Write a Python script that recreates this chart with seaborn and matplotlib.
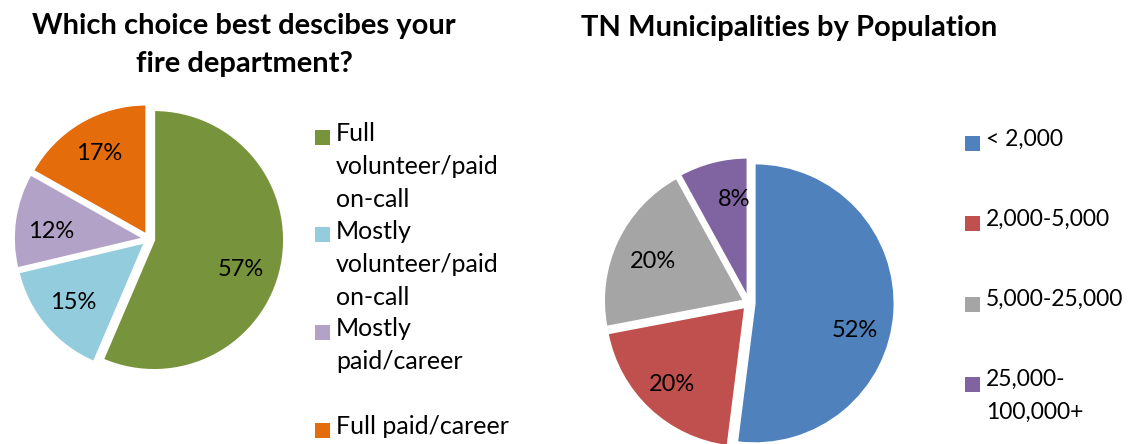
import matplotlib
matplotlib.use("Agg")
import matplotlib.pyplot as plt
import matplotlib.patches as patches
import seaborn as sns

# left chart data
dept_labels = ["Full\nvolunteer/paid\non-call", "Mostly\nvolunteer/paid\non-call",
               "Mostly\npaid/career", "Full paid/career"]
dept_share = [57, 15, 12, 17]
dept_colors = ["#77933C", "#93CDDD", "#B3A2C7", "#E46C0A"]

# right chart data
pop_labels = ["< 2,000", "2,000-5,000", "5,000-25,000", "25,000-\n100,000+"]
pop_share = [52, 20, 20, 8]
pop_colors = ["#4F81BD", "#C0504D", "#A5A5A5", "#8064A2"]

sns.set_theme(style="white")
plt.rcParams['font.family'] = ['Lato', 'DejaVu Sans']
plt.rcParams['text.color'] = 'black'

W, H = 1133, 444
fig = plt.figure(figsize=(W / 100, H / 100), dpi=100)
fig.patch.set_facecolor("white")

L = 1.2


def pie_axes(cx, cy, r):
    # cx, cy in pixels from top-left, r radius in pixels
    side = 2 * L * r
    ax = fig.add_axes([(cx - side / 2) / W, (H - cy - side / 2) / H, side / W, side / H])
    return ax


def draw_pie(ax, values, colors, nudge):
    it = iter(values)
    wedges, texts, autotexts = ax.pie(
        values, colors=colors, startangle=90, counterclock=False,
        explode=[0.04] * len(values), autopct=lambda p: f"{next(it)}%",
        pctdistance=0.72, wedgeprops=dict(edgecolor="white", linewidth=1.5),
        textprops=dict(fontsize=17, color="black"))
    # pie() resets the limits, so set them afterwards
    ax.set_xlim(-L, L)
    ax.set_ylim(-L, L)
    ax.set_aspect("equal")
    ax.axis("off")
    # excel puts labels a little off the bisector
    for t, (dx, dy) in zip(autotexts, nudge):
        x, y = t.get_position()
        t.set_position((x + dx, y + dy))
    return wedges


def draw_legend(x, y0, step, labels, colors, size):
    for i, (lab, col) in enumerate(zip(labels, colors)):
        yy = y0 + i * step
        fig.patches.append(patches.Rectangle((x / W, 1 - (yy + 7.5) / H), 15 / W, 15 / H,
                                             transform=fig.transFigure, facecolor=col,
                                             edgecolor="none"))
        fig.text((x + 21) / W, 1 - (yy - 15) / H, lab, fontsize=size, va="top", ha="left",
                 linespacing=32.5 / (size * 100 / 72 * 0.85))


ax1 = pie_axes(149, 239, 130)
draw_pie(ax1, dept_share, dept_colors, [(-0.04, -0.08), (0, 0), (0, -0.05), (0, 0)])
ax2 = pie_axes(749, 303, 140)
draw_pie(ax2, pop_share, pop_colors, [(0.0, -0.15), (-0.03, -0.03), (0.0, -0.03), (0.08, 0.0)])

draw_legend(315, 137, 97.7, dept_labels, dept_colors, 18)
draw_legend(965, 144, 80, pop_labels, pop_colors, 16.5)

fig.text(244 / W, 1 - 45 / H, "Which choice best descibes your\nfire department?",
         ha="center", va="center", fontsize=21, fontweight="bold", linespacing=1.6)
fig.text(789 / W, 1 - 28 / H, "TN Municipalities by Population",
         ha="center", va="center", fontsize=21, fontweight="bold")

fig.savefig("out.png", dpi=100)
